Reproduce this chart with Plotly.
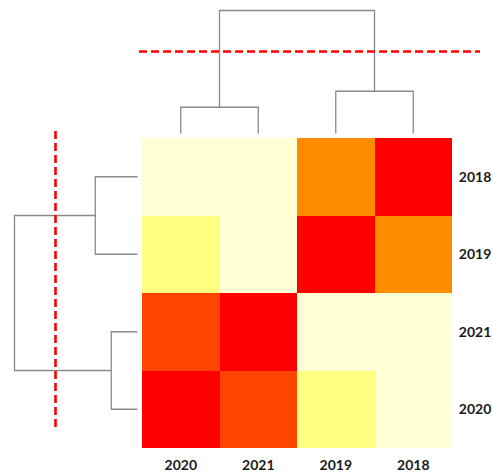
import plotly.graph_objects as go

# Column / row order of the clustered heatmap
col_labels = ["2020", "2021", "2019", "2018"]
row_labels = ["2018", "2019", "2021", "2020"]

# Similarity values (rows top -> bottom, columns left -> right)
z_2018 = [0.00, 0.00, 0.70, 1.00]
z_2019 = [0.20, 0.00, 1.00, 0.70]
z_2021 = [0.85, 1.00, 0.00, 0.00]
z_2020 = [1.00, 0.85, 0.20, 0.00]

# Linkage heights of the hierarchical clustering
pair_2020_2021 = 0.64
pair_2018_2019 = 1.03
root_height = 3.0
cut_height = 2.0

heat_scale = [
    [0.00, "#FFFFD5"],
    [0.20, "#FFFF80"],
    [0.70, "#FF8C00"],
    [0.85, "#FF4500"],
    [1.00, "#FF0000"],
]

W, H = 493, 475
px_per_unit = 41.0
heat_left, heat_right = 142, 452
heat_top, heat_bottom = 138, 448
leaf_gap = 4.5

z = [z_2018, z_2019, z_2021, z_2020]

fig = go.Figure()

fig.add_trace(go.Heatmap(
    z=z, x=list(range(4)), y=list(range(4)),
    colorscale=heat_scale, zmin=0, zmax=1, showscale=False,
    xaxis="x", yaxis="y", hoverinfo="skip",
))


def u_link(p_left, h_left, p_right, h_right, h):
    return [p_left, p_left, p_right, p_right, None], [h_left, h, h, h_right, None]


def pair_height(a, b):
    if {a, b} == {"2020", "2021"}:
        return pair_2020_2021
    return pair_2018_2019


def dendro_segments(order):
    # two leaf pairs, joined at the root
    hl = pair_height(order[0], order[1])
    hr = pair_height(order[2], order[3])
    segs_p, segs_h = [], []
    for p, h in (u_link(0, 0, 1, 0, hl),
                 u_link(2, 0, 3, 0, hr),
                 u_link(0.5, hl, 2.5, hr, root_height)):
        segs_p += p
        segs_h += h
    return segs_p, segs_h


line_style = dict(color="#8a8a8a", width=1.3)

# Column dendrogram (top)
cp, ch = dendro_segments(col_labels)
fig.add_trace(go.Scatter(x=cp, y=ch, mode="lines", line=line_style,
                         xaxis="x2", yaxis="y2", hoverinfo="skip"))

# Row dendrogram (left)
rp, rh = dendro_segments(row_labels)
fig.add_trace(go.Scatter(x=rh, y=rp, mode="lines", line=line_style,
                         xaxis="x3", yaxis="y3", hoverinfo="skip"))

tick_font = dict(family="Lato", size=14, color="#1a1a1a", weight="bold")
hidden = dict(visible=False, showgrid=False, zeroline=False)

fig.update_layout(
    width=W, height=H,
    margin=dict(l=0, r=0, t=0, b=0),
    paper_bgcolor="white", plot_bgcolor="white",
    showlegend=False,
    xaxis=dict(domain=[heat_left / W, heat_right / W], range=[-0.5, 3.5],
               tickvals=list(range(4)), ticktext=col_labels, tickfont=tick_font,
               ticks="outside", ticklen=4, tickcolor="rgba(0,0,0,0)",
               showgrid=False, zeroline=False, showline=False),
    yaxis=dict(domain=[1 - heat_bottom / H, 1 - heat_top / H], range=[3.5, -0.5],
               tickvals=list(range(4)), ticktext=row_labels, tickfont=tick_font,
               side="right", ticks="outside", ticklen=3, tickcolor="rgba(0,0,0,0)",
               showgrid=False, zeroline=False, showline=False),
    xaxis2=dict(domain=[heat_left / W, heat_right / W], range=[-0.5, 3.5], **hidden),
    yaxis2=dict(domain=[1 - heat_top / H, 1],
                range=[-leaf_gap / px_per_unit, (heat_top - leaf_gap) / px_per_unit],
                **hidden),
    xaxis3=dict(domain=[0, heat_left / W],
                range=[(heat_left - leaf_gap) / px_per_unit, -leaf_gap / px_per_unit],
                **hidden),
    yaxis3=dict(domain=[1 - heat_bottom / H, 1 - heat_top / H], range=[3.5, -0.5],
                **hidden),
)

cut_line = dict(color="#FF0000", width=2.6, dash="8px,4px")
# Horizontal cut through the column dendrogram
fig.add_shape(type="line", xref="paper", yref="y2",
              x0=139 / W, x1=480 / W, y0=cut_height, y1=cut_height, line=cut_line)
# Vertical cut through the row dendrogram
fig.add_shape(type="line", xref="x3", yref="paper",
              x0=cut_height, x1=cut_height, y0=1 - 427 / H, y1=1 - 128 / H, line=cut_line)

fig.write_html("out.html")
